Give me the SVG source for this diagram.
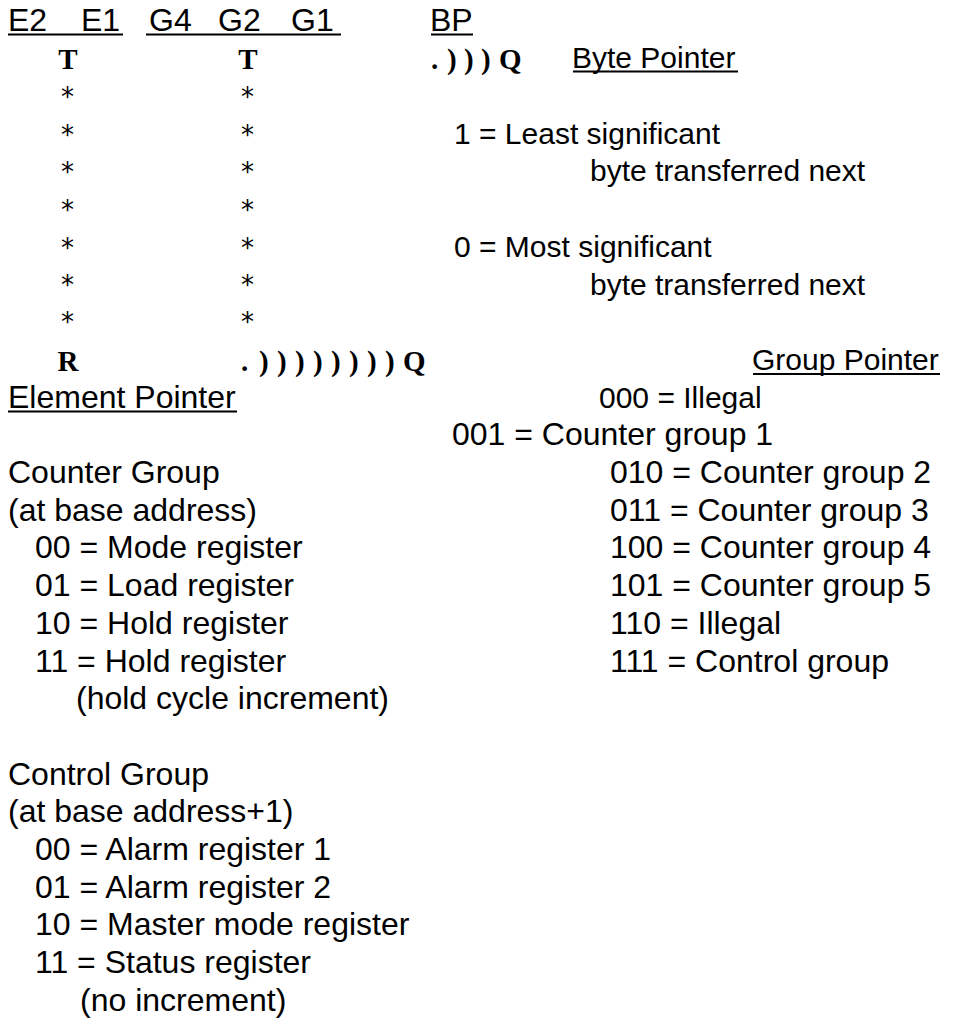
<svg xmlns="http://www.w3.org/2000/svg" width="979" height="1020" viewBox="0 0 979 1020">
<style>
.t{font-family:"Liberation Sans",Arial,sans-serif;font-size:32px;fill:#000}
.m{font-size:30px}
.b{font-family:"Liberation Serif","Times New Roman",serif;font-size:29px;font-weight:bold;fill:#000}
.s{font-family:"DejaVu Sans",sans-serif;font-size:26px;fill:#000}
.u{stroke:#000;stroke-width:2.2;fill:none}
</style>
<rect width="979" height="1020" fill="#fff"/>
<g id="header">
<text class="t" x="8" y="30.6">E2</text>
<text class="t" x="81" y="30.6">E1</text>
<text class="t" x="149" y="30.6">G4</text>
<text class="t" x="218" y="30.6">G2</text>
<text class="t" x="291" y="30.6">G1</text>
<text class="t" x="430" y="30.6">BP</text>
<line class="u" x1="8" y1="34.5" x2="123" y2="34.5"/>
<line class="u" x1="146" y1="34.5" x2="341" y2="34.5"/>
<line class="u" x1="431" y1="34.5" x2="473" y2="34.5"/>
</g>
<g id="bit-lines">
<text class="b" x="68" y="69" text-anchor="middle">T</text>
<text class="b" x="248" y="69" text-anchor="middle">T</text>
<g class="s" text-anchor="middle">
<text x="67.5" y="106">*</text><text x="247.5" y="106">*</text>
<text x="67.5" y="143.5">*</text><text x="247.5" y="143.5">*</text>
<text x="67.5" y="181">*</text><text x="247.5" y="181">*</text>
<text x="67.5" y="218.5">*</text><text x="247.5" y="218.5">*</text>
<text x="67.5" y="256.5">*</text><text x="247.5" y="256.5">*</text>
<text x="67.5" y="293.5">*</text><text x="247.5" y="293.5">*</text>
<text x="67.5" y="331">*</text><text x="247.5" y="331">*</text>
</g>
<text class="b" x="68" y="370.5" text-anchor="middle">R</text>
<text class="b" x="431 447 464 481 499" y="69">.)))Q</text>
<text class="b" x="241 259 277 295 313 331 349 367 385 403" y="370.5">.))))))))Q</text>
</g>
<g id="byte-pointer">
<text class="t m" x="572" y="68.3">Byte Pointer</text>
<line class="u" x1="573" y1="71.5" x2="738" y2="71.5"/>
<text class="t m" x="454" y="143.7">1 = Least significant</text>
<text class="t m" x="590" y="181.4">byte transferred next</text>
<text class="t m" x="454" y="256.8">0 = Most significant</text>
<text class="t m" x="590" y="294.5">byte transferred next</text>
</g>
<g id="group-pointer">
<text class="t m" x="752" y="369.9">Group Pointer</text>
<line class="u" x1="753" y1="374" x2="940" y2="374"/>
<text class="t m" x="599" y="407.6">000 = Illegal</text>
<text class="t" x="452" y="445.3">001 = Counter group 1</text>
<text class="t" x="610" y="483">010 = Counter group 2</text>
<text class="t" x="610" y="520.7">011 = Counter group 3</text>
<text class="t" x="610" y="558.4">100 = Counter group 4</text>
<text class="t" x="610" y="596.1">101 = Counter group 5</text>
<text class="t" x="610" y="633.8">110 = Illegal</text>
<text class="t" x="610" y="671.5">111 = Control group</text>
</g>
<g id="element-pointer">
<text class="t" x="8" y="407.6">Element Pointer</text>
<line class="u" x1="8" y1="411.5" x2="237" y2="411.5"/>
<text class="t" x="8" y="483">Counter Group</text>
<text class="t" x="8" y="520.7">(at base address)</text>
<text class="t" x="35" y="558.4">00 = Mode register</text>
<text class="t" x="35" y="596.1">01 = Load register</text>
<text class="t" x="35" y="633.8">10 = Hold register</text>
<text class="t" x="35" y="671.5">11 = Hold register</text>
<text class="t" x="76" y="709.2">(hold cycle increment)</text>
<text class="t" x="8" y="784.6">Control Group</text>
<text class="t" x="8" y="822.3">(at base address+1)</text>
<text class="t" x="35" y="860">00 = Alarm register 1</text>
<text class="t" x="35" y="897.7">01 = Alarm register 2</text>
<text class="t" x="35" y="935.4">10 = Master mode register</text>
<text class="t" x="35" y="973.1">11 = Status register</text>
<text class="t" x="80" y="1010.8">(no increment)</text>
</g>
</svg>
